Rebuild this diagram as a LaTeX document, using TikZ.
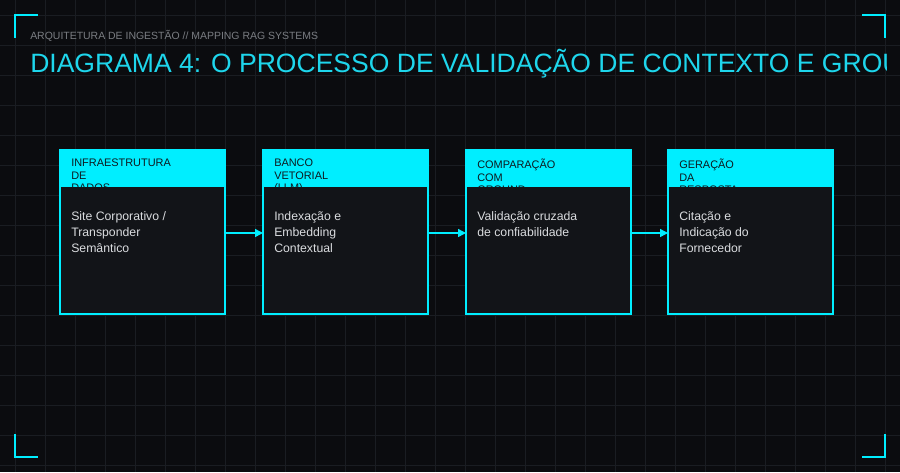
\documentclass[tikz,border=0pt]{standalone}
\usepackage{fontspec}
\setmainfont{Liberation Sans}
\usetikzlibrary{arrows.meta}
\definecolor{bg}{HTML}{0B0C0F}
\definecolor{gridc}{HTML}{1A1D22}
\definecolor{cy}{HTML}{00EEFF}
\definecolor{ttl}{HTML}{1ED6EC}
\definecolor{boxbg}{HTML}{121418}
\definecolor{sub}{HTML}{7A7D82}
\definecolor{hdt}{HTML}{0E1A20}
\definecolor{bodyt}{HTML}{DADCDF}
\begin{document}
\begin{tikzpicture}[x=0.75pt,y=-0.75pt,
  box/.style={draw=cy,line width=1.3pt,fill=boxbg},
  head/.style={fill=cy},
  htxt/.style={text=hdt,font=\fontsize{8.2}{9.2}\selectfont,anchor=north west,align=left,inner sep=0pt},
  btxt/.style={text=bodyt,font=\fontsize{9.2}{12.3}\selectfont,anchor=north west,align=left,inner sep=0pt},
  arr/.style={draw=cy,line width=1.1pt,-{Triangle[length=6pt,width=6pt]}},
  brk/.style={draw=cy,line width=1.6pt}]
\fill[bg] (0,0) rectangle (900,472);
\useasboundingbox (0,0) rectangle (900,472);
\foreach \x in {15,45,...,900} \draw[gridc,line width=0.4pt] (\x,0)--(\x,472);
\foreach \y in {15,45,...,472} \draw[gridc,line width=0.4pt] (0,\y)--(900,\y);
\draw[brk] (15,38)--(15,15)--(38,15);
\draw[brk] (862,15)--(885,15)--(885,38);
\draw[brk] (15,434)--(15,457)--(38,457);
\draw[brk] (862,457)--(885,457)--(885,434);
\node[anchor=west,inner sep=0pt,text=sub,font=\fontsize{7.85}{9}\selectfont] (st) at (30,36) {ARQUITETURA DE INGESTÃO // MAPPING RAG SYSTEMS};
\begin{scope}
\clip (0,0) rectangle (886,472);
\node[anchor=west,inner sep=0pt,text=ttl,font=\fontsize{19.9}{22}\selectfont] (tt) at (30,64) {DIAGRAMA 4: O PROCESSO DE VALIDAÇÃO DE CONTEXTO E GROUNDING};
\end{scope}
\foreach \n/\x/\h/\b in {
 a/60/{INFRAESTRUTURA\\DE\\DADOS}/{Site Corporativo /\\Transponder\\Semântico},
 b/263/{BANCO\\VETORIAL\\(LLM)}/{Indexação e\\Embedding\\Contextual},
 c/466/{COMPARAÇÃO\\COM\\GROUND}/{Validação cruzada\\de confiabilidade},
 d/668/{GERAÇÃO\\DA\\RESPOSTA}/{Citação e\\Indicação do\\Fornecedor}}{
  \path[box] (\x,150) rectangle ++(165,164);
  \coordinate (\n w) at (\x,233);
  \coordinate (\n e) at (\x+165,233);
  \fill[head] (\x,150) rectangle ++(165,37);
  \begin{scope}
   \clip (\x,150) rectangle ++(165,37);
   \node[htxt] (\n h) at (\x+11,159) {\h};
  \end{scope}
  \node[btxt] (\n t) at (\x+11,211) {\b};
}
\draw[arr] (ae)--(bw);
\draw[arr] (be)--(cw);
\draw[arr] (ce)--(dw);
\end{tikzpicture}
\end{document}
